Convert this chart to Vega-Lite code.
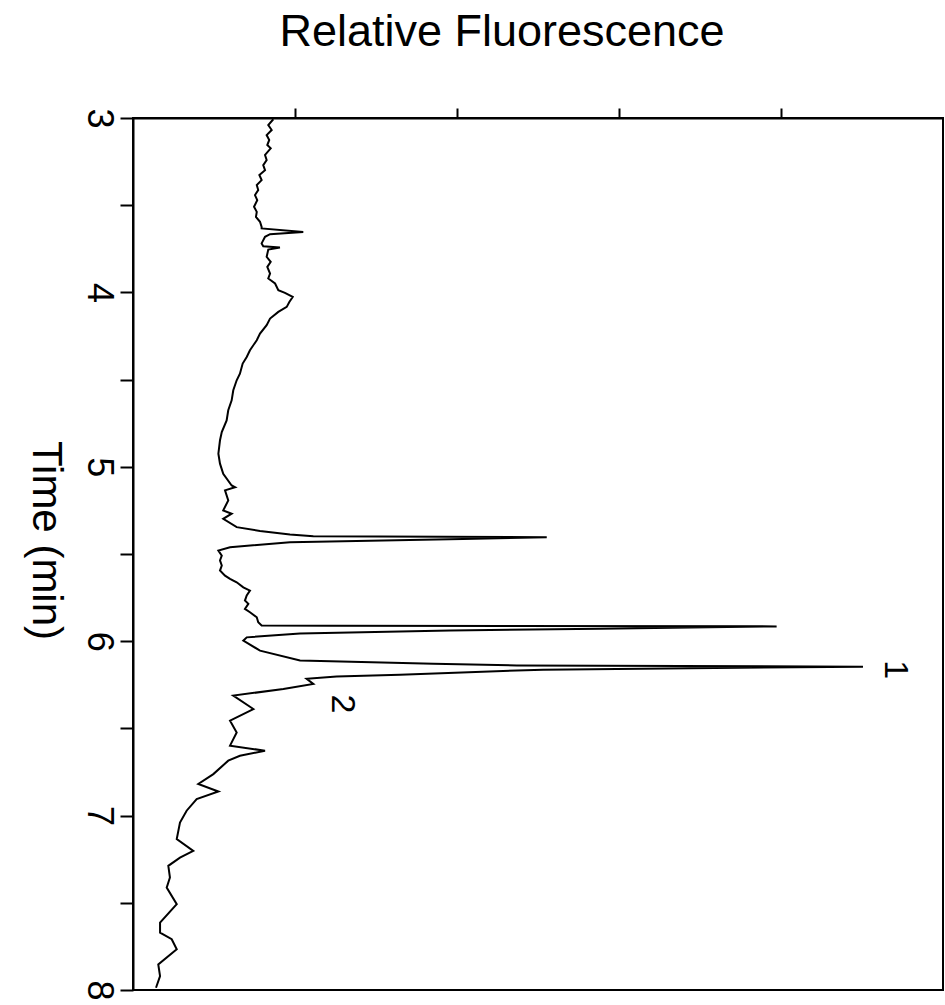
{
  "$schema": "https://vega.github.io/schema/vega-lite/v6.json",
  "width": 810,
  "height": 872,
  "autosize": "none",
  "padding": {"left": 133, "top": 118, "right": 2, "bottom": 15},
  "background": "white",
  "config": {"view": {"stroke": "black", "strokeWidth": 2}, "font": "Liberation Sans"},
  "datasets": {
    "trace": [
      {"t": 3.007, "v": 0.866}, {"t": 3.040, "v": 0.835}, {"t": 3.069, "v": 0.856}, {"t": 3.098, "v": 0.825},
      {"t": 3.126, "v": 0.841}, {"t": 3.155, "v": 0.829}, {"t": 3.174, "v": 0.850}, {"t": 3.212, "v": 0.815},
      {"t": 3.241, "v": 0.825}, {"t": 3.270, "v": 0.804}, {"t": 3.299, "v": 0.815}, {"t": 3.327, "v": 0.780},
      {"t": 3.356, "v": 0.794}, {"t": 3.385, "v": 0.764}, {"t": 3.413, "v": 0.773}, {"t": 3.442, "v": 0.753},
      {"t": 3.471, "v": 0.767}, {"t": 3.509, "v": 0.747}, {"t": 3.538, "v": 0.764}, {"t": 3.567, "v": 0.759},
      {"t": 3.595, "v": 0.784}, {"t": 3.624, "v": 0.794}, {"t": 3.633, "v": 0.794}, {"t": 3.653, "v": 1.051},
      {"t": 3.666, "v": 0.846}, {"t": 3.681, "v": 0.815}, {"t": 3.719, "v": 0.794}, {"t": 3.735, "v": 0.804},
      {"t": 3.742, "v": 0.907}, {"t": 3.754, "v": 0.835}, {"t": 3.796, "v": 0.825}, {"t": 3.825, "v": 0.850},
      {"t": 3.854, "v": 0.829}, {"t": 3.892, "v": 0.846}, {"t": 3.920, "v": 0.835}, {"t": 3.949, "v": 0.877},
      {"t": 3.987, "v": 0.897}, {"t": 4.003, "v": 0.938}, {"t": 4.026, "v": 0.986}, {"t": 4.055, "v": 0.965},
      {"t": 4.083, "v": 0.949}, {"t": 4.112, "v": 0.897}, {"t": 4.150, "v": 0.846}, {"t": 4.188, "v": 0.825},
      {"t": 4.236, "v": 0.784}, {"t": 4.274, "v": 0.764}, {"t": 4.332, "v": 0.722}, {"t": 4.370, "v": 0.702},
      {"t": 4.408, "v": 0.677}, {"t": 4.466, "v": 0.660}, {"t": 4.504, "v": 0.640}, {"t": 4.561, "v": 0.619},
      {"t": 4.619, "v": 0.609}, {"t": 4.676, "v": 0.588}, {"t": 4.734, "v": 0.578}, {"t": 4.801, "v": 0.548},
      {"t": 4.848, "v": 0.537}, {"t": 4.925, "v": 0.527}, {"t": 4.982, "v": 0.537}, {"t": 5.040, "v": 0.557},
      {"t": 5.107, "v": 0.609}, {"t": 5.117, "v": 0.630}, {"t": 5.135, "v": 0.568}, {"t": 5.193, "v": 0.588},
      {"t": 5.250, "v": 0.557}, {"t": 5.269, "v": 0.609}, {"t": 5.298, "v": 0.557}, {"t": 5.346, "v": 0.640},
      {"t": 5.368, "v": 0.784}, {"t": 5.388, "v": 0.969}, {"t": 5.398, "v": 1.113}, {"t": 5.404, "v": 2.554},
      {"t": 5.414, "v": 2.037}, {"t": 5.432, "v": 0.969}, {"t": 5.461, "v": 0.599}, {"t": 5.480, "v": 0.527},
      {"t": 5.509, "v": 0.548}, {"t": 5.537, "v": 0.537}, {"t": 5.566, "v": 0.548}, {"t": 5.595, "v": 0.537},
      {"t": 5.624, "v": 0.568}, {"t": 5.642, "v": 0.599}, {"t": 5.662, "v": 0.640}, {"t": 5.691, "v": 0.681},
      {"t": 5.710, "v": 0.722}, {"t": 5.738, "v": 0.702}, {"t": 5.767, "v": 0.691}, {"t": 5.786, "v": 0.712},
      {"t": 5.815, "v": 0.691}, {"t": 5.834, "v": 0.722}, {"t": 5.863, "v": 0.764}, {"t": 5.891, "v": 0.773},
      {"t": 5.910, "v": 0.794}, {"t": 5.912, "v": 1.216}, {"t": 5.915, "v": 3.973}, {"t": 5.928, "v": 2.883},
      {"t": 5.939, "v": 1.957}, {"t": 5.956, "v": 1.031}, {"t": 5.978, "v": 0.702}, {"t": 5.997, "v": 0.681},
      {"t": 6.054, "v": 0.784}, {"t": 6.111, "v": 1.031}, {"t": 6.130, "v": 1.854}, {"t": 6.139, "v": 2.369},
      {"t": 6.146, "v": 4.506}, {"t": 6.163, "v": 2.531}, {"t": 6.192, "v": 1.648}, {"t": 6.203, "v": 1.257},
      {"t": 6.216, "v": 1.072}, {"t": 6.245, "v": 1.113}, {"t": 6.274, "v": 0.928}, {"t": 6.312, "v": 0.619},
      {"t": 6.389, "v": 0.743}, {"t": 6.456, "v": 0.599}, {"t": 6.523, "v": 0.640}, {"t": 6.599, "v": 0.599},
      {"t": 6.628, "v": 0.815}, {"t": 6.657, "v": 0.660}, {"t": 6.685, "v": 0.588}, {"t": 6.762, "v": 0.496},
      {"t": 6.819, "v": 0.403}, {"t": 6.862, "v": 0.527}, {"t": 6.905, "v": 0.393}, {"t": 6.972, "v": 0.331},
      {"t": 7.040, "v": 0.290}, {"t": 7.135, "v": 0.270}, {"t": 7.202, "v": 0.372}, {"t": 7.241, "v": 0.290},
      {"t": 7.288, "v": 0.218}, {"t": 7.355, "v": 0.228}, {"t": 7.413, "v": 0.208}, {"t": 7.508, "v": 0.270},
      {"t": 7.614, "v": 0.167}, {"t": 7.671, "v": 0.167}, {"t": 7.709, "v": 0.239}, {"t": 7.766, "v": 0.270},
      {"t": 7.853, "v": 0.156}, {"t": 7.920, "v": 0.167}, {"t": 7.987, "v": 0.142}
    ],
    "labels": [
      {"t": 6.163, "v": 4.704, "label": "1"},
      {"t": 6.360, "v": 1.288, "label": "2"}
    ]
  },
  "layer": [
    {
      "data": {"name": "trace"},
      "mark": {"type": "line", "color": "black", "strokeWidth": 2, "clip": true},
      "encoding": {
        "x": {
          "field": "v", "type": "quantitative",
          "scale": {"domain": [0, 5], "nice": false, "zero": false},
          "axis": {
            "orient": "top", "values": [1, 2, 3, 4], "labels": false, "grid": false,
            "tickSize": 10, "tickWidth": 2, "tickColor": "black",
            "domainColor": "black", "domainWidth": 2,
            "title": "Relative Fluorescence", "titleFontSize": 45, "titleFontWeight": "normal",
            "titleColor": "black", "titleX": 368.5, "titleY": -73, "titleAlign": "center",
            "titleBaseline": "alphabetic", "titleAngle": 0
          }
        },
        "y": {
          "field": "t", "type": "quantitative",
          "scale": {"domain": [3, 8], "reverse": true, "nice": false, "zero": false},
          "axis": {
            "orient": "left", "values": [3, 3.5, 4, 4.5, 5, 5.5, 6, 6.5, 7, 7.5, 8],
            "labelExpr": "datum.value % 1 === 0 ? format(datum.value, 'd') : ''",
            "labelAngle": 90, "labelAlign": "center", "labelBaseline": "alphabetic",
            "labelFontSize": 36, "labelPadding": 33, "labelColor": "black",
            "labelFlush": false, "labelOverlap": false, "labelBound": false,
            "tickSize": 13, "tickWidth": 2, "tickColor": "black",
            "domainColor": "black", "domainWidth": 2, "grid": false,
            "title": "Time (min)", "titleAngle": 90, "titleFontSize": 42, "titleFontWeight": "normal",
            "titleColor": "black", "titleX": -101, "titleY": 422, "titleAlign": "center",
            "titleBaseline": "alphabetic"
          }
        },
        "order": {"field": "t", "type": "quantitative"}
      }
    },
    {
      "data": {"name": "labels"},
      "mark": {"type": "text", "angle": 90, "fontSize": 34, "font": "Liberation Sans", "color": "black", "align": "center", "baseline": "middle"},
      "encoding": {
        "x": {"field": "v", "type": "quantitative"},
        "y": {"field": "t", "type": "quantitative"},
        "text": {"field": "label"}
      }
    }
  ]
}
